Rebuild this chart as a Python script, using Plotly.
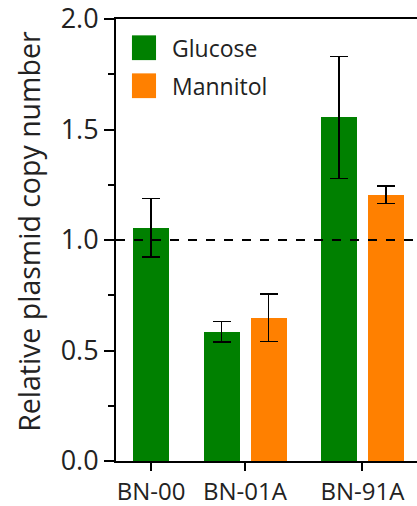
import plotly.graph_objects as go

# ---- data ----
categories = ["BN-00", "BN-01A", "BN-91A"]
glucose = [1.055, 0.585, 1.555]
glucose_err = [0.132, 0.047, 0.276]
mannitol = [None, 0.648, 1.205]
mannitol_err = [None, 0.108, 0.040]
series_names = ["Glucose", "Mannitol"]
colors = ["#008000", "#FF8000"]
y_ticks = [0.0, 0.5, 1.0, 1.5, 2.0]
y_ticklabels = ["0.0", "0.5", "1.0", "1.5", "2.0"]
reference_level = 1.0
y_title = "Relative plasmid copy number"

# ---- layout of bar slots (in bar-pitch units) ----
within_gap = 1.0   # pitch between bars of the same group
between_gap = 1.5  # pitch between groups
bar_width = 0.766

g_x, m_x, centers = [], [], []
cursor = 0.0
for i, cat in enumerate(categories):
    if i > 0:
        cursor += between_gap
    has_m = mannitol[i] is not None
    if has_m:
        g_x.append(cursor)
        m_x.append(cursor + within_gap)
        centers.append(cursor + within_gap / 2)
        cursor += within_gap
    else:
        g_x.append(cursor)
        m_x.append(None)
        centers.append(cursor)

FONT = "Open Sans, Noto Sans, sans-serif"
TXT = "#222222"

fig = go.Figure()
fig.add_trace(go.Bar(
    x=g_x, y=glucose, name=series_names[0], width=bar_width,
    marker=dict(color=colors[0], line=dict(width=0)),
    error_y=dict(type="data", array=glucose_err, color="black", thickness=1.5, width=9),
    showlegend=False,
))
mx = [x for x, v in zip(m_x, mannitol) if v is not None]
mv = [v for v in mannitol if v is not None]
me = [e for e, v in zip(mannitol_err, mannitol) if v is not None]
fig.add_trace(go.Bar(
    x=mx, y=mv, name=series_names[1], width=bar_width,
    marker=dict(color=colors[1], line=dict(width=0)),
    error_y=dict(type="data", array=me, color="black", thickness=1.5, width=9),
    showlegend=False,
))

# dashed reference line
fig.add_shape(type="line", xref="paper", yref="y", x0=0, x1=1,
              y0=reference_level, y1=reference_level,
              line=dict(color="black", width=2, dash="dash"), layer="above")

# manual legend (large squares)
leg_y = [1.870, 1.698]
for name, col, yy in zip(series_names, colors, leg_y):
    fig.add_shape(type="rect", xref="paper", yref="y",
                  x0=0.053, x1=0.133, y0=yy - 0.056, y1=yy + 0.056,
                  fillcolor=col, line=dict(width=0), layer="above")
    fig.add_annotation(x=0.178, y=yy, xref="paper", yref="y", text=name,
                       showarrow=False, xanchor="left", yanchor="middle",
                       font=dict(family=FONT, size=23, color=TXT))

# y-axis title as rotated annotation
fig.add_annotation(x=-0.29, y=0.52, xref="paper", yref="paper", text=y_title,
                   textangle=-90, showarrow=False, xanchor="center", yanchor="middle",
                   font=dict(family=FONT, size=28.5, color=TXT))

fig.update_layout(
    width=417, height=506,
    margin=dict(l=116, r=0, t=19, b=45, pad=0),
    plot_bgcolor="white", paper_bgcolor="white",
    bargap=0,
    font=dict(family=FONT, size=22, color=TXT),
    xaxis=dict(
        range=[-0.745, 5.66], automargin=False,
        tickmode="array", tickvals=centers, ticktext=categories,
        ticks="outside", ticklen=8, tickwidth=2, tickcolor="black",
        showline=True, linecolor="black", linewidth=2, mirror=True,
        showgrid=False, zeroline=False, ticklabeloverflow="allow",
        tickfont=dict(family=FONT, size=24, color=TXT),
    ),
    yaxis=dict(
        range=[0, 2.0], automargin=False,
        tickmode="array", tickvals=y_ticks, ticktext=y_ticklabels,
        ticks="outside", ticklen=10, tickwidth=2, tickcolor="black",
        minor=dict(dtick=0.25, ticks="outside", ticklen=6, tickwidth=2, tickcolor="black"),
        showline=True, linecolor="black", linewidth=2,
        showgrid=False, zeroline=False, ticklabeloverflow="allow",
        tickfont=dict(family=FONT, size=27, color=TXT),
    ),
)

fig.write_html(
    "out.html",
    config={"displayModeBar": False},
    post_script="document.body.style.margin='0';document.body.style.overflow='hidden';",
)
